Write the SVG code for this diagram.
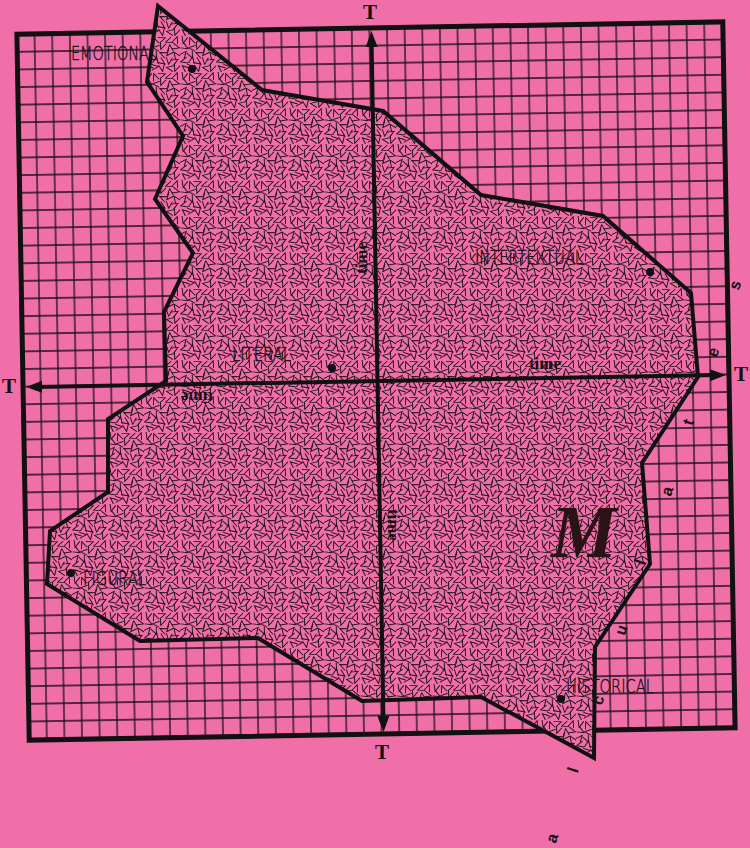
<svg xmlns="http://www.w3.org/2000/svg" xmlns:xlink="http://www.w3.org/1999/xlink" width="750" height="848" viewBox="0 0 750 848">
<style>
.lbl{font-family:"DejaVu Sans","Liberation Sans",sans-serif;font-weight:200;font-size:20px;fill:#1a1418;stroke:#1a1418;stroke-width:0.45;}
.time{font-family:"Liberation Serif","DejaVu Serif",serif;font-weight:bold;font-size:17px;fill:#1a1014;}
.T{font-family:"Liberation Serif","DejaVu Serif",serif;font-weight:bold;font-size:21px;fill:#111;}
.ltr{font-family:"Liberation Sans","DejaVu Sans",sans-serif;font-weight:bold;font-size:16px;fill:#1a1014;}
.dot{fill:#111;}
.axis{stroke:#111;stroke-width:4;fill:none;}
</style>
<defs>
<path id="v" d="M-3,-3.5L0,3.5L3,-3.5" fill="none" stroke="#1c1016" stroke-width="0.95"/>
<pattern id="tex" width="36" height="36" patternUnits="userSpaceOnUse">
<rect width="36" height="36" fill="#F06FA8"/>
<use href="#v" transform="translate(4,4) rotate(15)"/>
<use href="#v" transform="translate(11,5) rotate(160)"/>
<use href="#v" transform="translate(18,3) rotate(250)"/>
<use href="#v" transform="translate(25,5) rotate(70)"/>
<use href="#v" transform="translate(32,4) rotate(200)"/>
<use href="#v" transform="translate(5,11) rotate(300)"/>
<use href="#v" transform="translate(12,12) rotate(95)"/>
<use href="#v" transform="translate(18,10) rotate(20)"/>
<use href="#v" transform="translate(26,12) rotate(175)"/>
<use href="#v" transform="translate(32,11) rotate(285)"/>
<use href="#v" transform="translate(4,18) rotate(220)"/>
<use href="#v" transform="translate(11,19) rotate(335)"/>
<use href="#v" transform="translate(19,18) rotate(115)"/>
<use href="#v" transform="translate(25,17) rotate(40)"/>
<use href="#v" transform="translate(32,19) rotate(145)"/>
<use href="#v" transform="translate(4,25) rotate(75)"/>
<use href="#v" transform="translate(12,24) rotate(190)"/>
<use href="#v" transform="translate(18,26) rotate(305)"/>
<use href="#v" transform="translate(25,25) rotate(5)"/>
<use href="#v" transform="translate(31,25) rotate(240)"/>
<use href="#v" transform="translate(5,32) rotate(130)"/>
<use href="#v" transform="translate(11,31) rotate(265)"/>
<use href="#v" transform="translate(18,32) rotate(350)"/>
<use href="#v" transform="translate(26,32) rotate(100)"/>
<use href="#v" transform="translate(32,32) rotate(20)"/>
</pattern>
<pattern id="grid" x="14.1875" y="19.1875" width="17.625" height="17.625" patternUnits="userSpaceOnUse">
<path d="M8.8125,0V17.625M0,8.8125H17.625" stroke="#1a1014" stroke-width="1.3" fill="none"/>
</pattern>
<marker id="arr" markerUnits="userSpaceOnUse" markerWidth="18" markerHeight="14" viewBox="0 -7 18 14" refX="6" refY="0" orient="auto-start-reverse">
<path d="M0,-6L16,0L0,6Z" fill="#111"/>
</marker>
</defs>
<rect width="750" height="848" fill="#F06FA8"/>
<g id="grid-square" transform="rotate(-1 376 381)">
<rect x="23" y="28" width="706" height="706" fill="url(#grid)"/>
<rect x="23" y="28" width="706" height="706" fill="none" stroke="#111" stroke-width="5"/>
</g>
<g id="region">
<polygon points="158,6 262,90 383,111 481,195 603,216 691,293 698,377 642,463 650,564 595,647 594,758 481,697 362,701 258,638 140,641 47,584 50,531 108,492 108,419 166,381 164,312 193,253 155,199 183,136 147,82" fill="url(#tex)" stroke="#111" stroke-width="4" stroke-linejoin="miter"/>
</g>
<g id="connectors" transform="rotate(-1 376 381)">
<line class="axis" x1="377.5" y1="41" x2="377.5" y2="722" marker-start="url(#arr)" marker-end="url(#arr)"/>
<line class="axis" x1="36" y1="381" x2="716" y2="381" marker-start="url(#arr)" marker-end="url(#arr)"/>
</g>
<g id="axis-labels">
<text class="T" x="370" y="19" text-anchor="middle">T</text>
<text class="T" x="382" y="759" text-anchor="middle">T</text>
<text class="T" x="9" y="393" text-anchor="middle">T</text>
<text class="T" x="741" y="381" text-anchor="middle">T</text>
<text class="time" x="545" y="369" text-anchor="middle">time</text>
<text class="time" text-anchor="middle" transform="translate(197,392) rotate(180)">time</text>
<text class="time" text-anchor="middle" transform="translate(388,525) rotate(90)">time</text>
<text class="time" text-anchor="middle" transform="translate(367,258) rotate(-90)">time</text>
</g>
<g id="node-emotional">
<circle class="dot" cx="192" cy="69" r="4"/>
<text class="lbl" x="71" y="60" textLength="86" lengthAdjust="spacingAndGlyphs">EMOTIONAL</text>
</g>
<g id="node-intertextual">
<circle class="dot" cx="650" cy="272" r="4"/>
<text class="lbl" x="475" y="264" textLength="108" lengthAdjust="spacingAndGlyphs">INTERTEXTUAL</text>
</g>
<g id="node-literal">
<circle class="dot" cx="332" cy="368" r="4"/>
<text class="lbl" x="232" y="361" textLength="59" lengthAdjust="spacingAndGlyphs">LITERAL</text>
</g>
<g id="node-figural">
<circle class="dot" cx="71" cy="573" r="4"/>
<text class="lbl" x="83" y="585" textLength="63" lengthAdjust="spacingAndGlyphs">FIGURAL</text>
</g>
<g id="node-historical">
<circle class="dot" cx="561" cy="699" r="4"/>
<text class="lbl" x="566" y="693" textLength="88" lengthAdjust="spacingAndGlyphs">HISTORICAL</text>
</g>
<g id="mark-m">
<text x="584" y="557" text-anchor="middle" font-family="Liberation Serif, DejaVu Serif, serif" font-weight="bold" font-style="italic" font-size="74" fill="#2b1216">M</text>
</g>
<g id="side-word" class="ltr" text-anchor="middle" dominant-baseline="central">
<text transform="translate(552,838) rotate(-72)">a</text>
<text transform="translate(573,770) rotate(-72)">l</text>
<text transform="translate(598,700) rotate(-72)">c</text>
<text transform="translate(621,630) rotate(-72)">u</text>
<text transform="translate(640,562) rotate(-72)">l</text>
<text transform="translate(667,491) rotate(-72)">a</text>
<text transform="translate(688,422) rotate(-72)">t</text>
<text transform="translate(713,352) rotate(-72)">e</text>
<text transform="translate(735,285) rotate(-72)">s</text>
</g>
</svg>
